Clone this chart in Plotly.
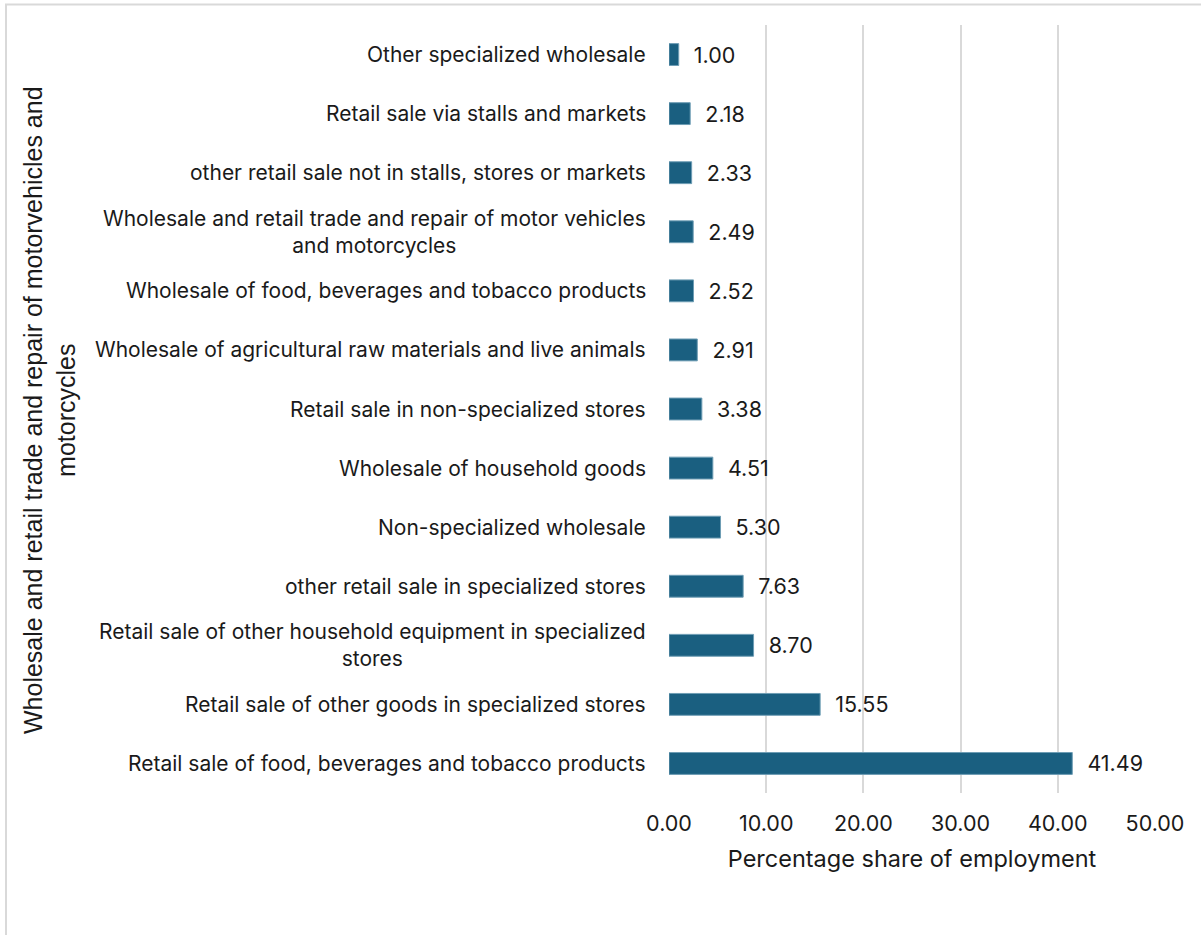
import plotly.graph_objects as go

# Employment share by sub-sector (bottom to top in the chart)
categories = [
    "Retail sale of food, beverages and tobacco products",
    "Retail sale of other goods in specialized stores",
    "Retail sale of other household equipment in specialized<br>stores",
    "other retail sale in specialized stores",
    "Non-specialized wholesale",
    "Wholesale of household goods",
    "Retail sale in non-specialized stores",
    "Wholesale of agricultural raw materials and live animals",
    "Wholesale of food, beverages and tobacco products",
    "Wholesale and retail trade and repair of motor vehicles<br>and motorcycles",
    "other retail sale not in stalls, stores or markets",
    "Retail sale via stalls and markets",
    "Other specialized wholesale",
]
shares = [41.49, 15.55, 8.70, 7.63, 5.30, 4.51, 3.38, 2.91, 2.52, 2.49, 2.33, 2.18, 1.00]
x_ticks = [0, 10, 20, 30, 40, 50]

y_title = "Wholesale and retail trade and repair of motorvehicles and<br>motorcycles"
x_title = "Percentage share of employment"

W, H = 1201, 935
L, R, T, B = 669, 46, 25, 142
plot_w = W - L - R
plot_h = H - T - B

label_font = "Inter, 'Open Sans', sans-serif"
ink = "#1a1a1a"

fig = go.Figure()
fig.add_trace(go.Bar(
    x=shares,
    y=list(range(len(categories))),
    orientation="h",
    width=0.37,
    marker=dict(color="#1a5f80", line=dict(color="#6e9db4", width=1)),
    text=[f"{v:.2f}" for v in shares],
    texttemplate="  %{text}",
    textposition="outside",
    constraintext="none",
    textfont=dict(family=label_font, size=21.5, color=ink),
    cliponaxis=False,
    hoverinfo="skip",
))

# Category labels as centred annotations beside the axis
for i, name in enumerate(categories):
    fig.add_annotation(
        x=0, xref="paper", y=i, yref="y",
        text=name, showarrow=False,
        xanchor="right", yanchor="middle", align="center",
        xshift=-21,
        font=dict(family=label_font, size=21, color=ink),
    )

# Rotated y-axis title
fig.add_annotation(
    x=(50 - L) / plot_w, xref="paper", y=(H - B - 410) / plot_h, yref="paper",
    text=y_title, textangle=-90, showarrow=False,
    xanchor="center", yanchor="middle", align="center",
    font=dict(family="'Liberation Sans', Arial, sans-serif", size=25, color=ink),
)

# Outer chart frame
fig.add_shape(
    type="rect", xref="paper", yref="paper",
    x0=(6 - L) / plot_w, x1=(W + 10 - L) / plot_w,
    y0=(H - B - (H + 10)) / plot_h, y1=(H - B - 4.5) / plot_h,
    line=dict(color="#d9d9d9", width=2), fillcolor="rgba(0,0,0,0)", layer="below",
)

fig.update_layout(
    width=W, height=H,
    margin=dict(l=L, r=R, t=T, b=B),
    paper_bgcolor="white", plot_bgcolor="white",
    showlegend=False,
    xaxis=dict(
        range=[0, 50], tickvals=x_ticks,
        ticktext=[f"{v:.2f}" for v in x_ticks],
        showgrid=True, gridcolor="#d9d9d9", gridwidth=2,
        zeroline=False, showline=False, ticks="",
        ticklabelstandoff=15,
        tickfont=dict(family=label_font, size=21.5, color=ink),
        title=dict(text=x_title, standoff=16,
                   font=dict(family=label_font, size=23.5, color=ink)),
    ),
    yaxis=dict(
        range=[-0.5, len(categories) - 0.5],
        showticklabels=False, showgrid=False, zeroline=False, showline=False,
    ),
)

fig.write_html("out.html")
